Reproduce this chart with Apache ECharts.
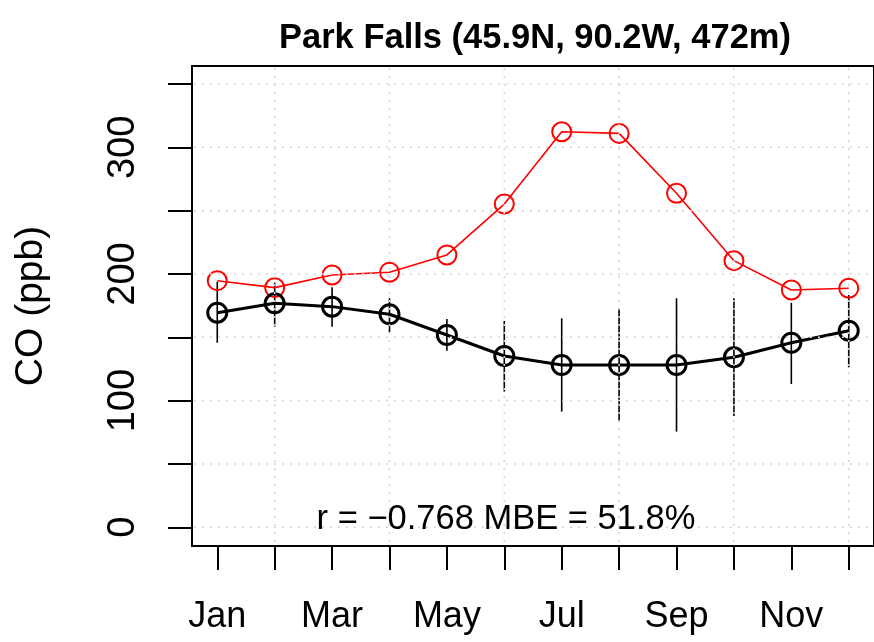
<!DOCTYPE html>
<html>
<head>
<meta charset="utf-8">
<script src="https://cdn.jsdelivr.net/npm/echarts@6/dist/echarts.min.js"></script>
<style>html,body{margin:0;padding:0;background:#fff}#c{width:874px;height:642px}</style>
</head>
<body>
<div id="c"></div>
<script>
const months = ['Jan','Feb','Mar','Apr','May','Jun','Jul','Aug','Sep','Oct','Nov','Dec'];
const monthIdx = [1,2,3,4,5,6,7,8,9,10,11,12];
const modelCO = [194.7,189.2,199.2,201.3,215.0,255.2,312.3,311.0,263.7,210.5,187.3,188.7];
const obsCO   = [169.4,176.8,174.2,168.2,151.8,135.2,128.1,128.1,128.1,134.2,145.7,155.2];
const obsLow  = [145.7,158.4,158.4,153.9,139.4,107.1,91.3,83.4,75.5,87.9,113.1,126.3];
const obsHigh = [193.9,193.1,189.5,180.8,164.4,162.9,165.0,172.9,180.8,180.8,177.3,183.4];
const xLabelMonths = [1,3,5,7,9,11];
const yTickValues = [0,50,100,150,200,250,300,350];
const yLabelValues = [0,100,200,300];
const gridXValues = [2,4,6,8,10,12];
const gridYValues = [0,50,100,150,200,250,300,350];
const titleText = 'Park Falls (45.9N, 90.2W, 472m)';
const yName = 'CO (ppb)';
const statsText = 'r = \u22120.768 MBE = 51.8%';

const chart = echarts.init(document.getElementById('c'), null, {renderer:'canvas'});
const FONT = 'Liberation Sans, Arial, Helvetica, sans-serif';

const option = {
  animation: false,
  backgroundColor: '#fff',
  title: {
    text: titleText, left: 530, top: 16, textAlign: 'center',
    textStyle: {fontFamily: FONT, fontWeight: 'bold', fontSize: 34.5, color: '#000'}
  },
  grid: {left: 192, right: -1.3, top: 66, bottom: 96, show: true, borderColor: '#000', borderWidth: 2, containLabel: false},
  xAxis: {
    type: 'value', min: 0.56, max: 12.44,
    axisLine: {show: false, onZero: false},
    splitLine: {show: false},
    axisTick: {show: true, customValues: monthIdx, length: 24, inside: false, lineStyle: {color: '#000', width: 2}},
    axisLabel: {customValues: xLabelMonths, margin: 53, fontFamily: FONT, fontSize: 36, color: '#000',
      formatter: v => months[Math.round(v) - 1]}
  },
  yAxis: {
    type: 'value', min: -14.8, max: 364.2,
    name: yName, nameLocation: 'middle', nameGap: 141, nameRotate: 90,
    nameTextStyle: {fontFamily: FONT, fontSize: 39, color: '#000'},
    axisLine: {show: false, onZero: false},
    splitLine: {show: false},
    axisTick: {show: true, customValues: yTickValues, length: 24, lineStyle: {color: '#000', width: 2}},
    axisLabel: {customValues: yLabelValues, rotate: 90, margin: 49, fontFamily: FONT, fontSize: 38, color: '#000'}
  },
  series: [
    {
      type: 'custom', name: 'errbars', z: 2, silent: true,
      data: monthIdx.map((m, i) => [m, obsLow[i], obsHigh[i]]),
      renderItem: (params, api) => {
        const p1 = api.coord([api.value(0), api.value(1)]);
        const p2 = api.coord([api.value(0), api.value(2)]);
        return {type: 'line', shape: {x1: p1[0], y1: p1[1], x2: p2[0], y2: p2[1]},
          style: {stroke: '#000', lineWidth: 1.6}};
      }
    },
    {
      type: 'line', name: 'model', z: 3, silent: true,
      data: monthIdx.map((m, i) => [m, modelCO[i]]),
      symbol: 'circle', symbolSize: 19,
      itemStyle: {color: 'rgba(0,0,0,0)', borderColor: '#ff0000', borderWidth: 2},
      lineStyle: {color: '#ff0000', width: 1.6}
    },
    {
      type: 'line', name: 'obs', z: 4, silent: true,
      data: monthIdx.map((m, i) => [m, obsCO[i]]),
      symbol: 'circle', symbolSize: 19,
      itemStyle: {color: 'rgba(0,0,0,0)', borderColor: '#000', borderWidth: 3},
      lineStyle: {color: '#000', width: 3}
    },
    {
      type: 'custom', name: 'gridV', z: 6, silent: true,
      data: gridXValues.map(v => [v, 0]),
      renderItem: (params, api) => {
        const cs = params.coordSys;
        const x = api.coord([api.value(0), 0])[0];
        return {type: 'line', shape: {x1: x, y1: cs.y + 2, x2: x, y2: cs.y + cs.height - 2},
          style: {stroke: '#d3d3d3', lineWidth: 1.5, lineDash: [2, 6]}};
      }
    },
    {
      type: 'custom', name: 'gridH', z: 6, silent: true,
      data: gridYValues.map(v => [1, v]),
      renderItem: (params, api) => {
        const cs = params.coordSys;
        const y = api.coord([1, api.value(1)])[1];
        return {type: 'line', shape: {x1: cs.x + 2, y1: y, x2: cs.x + cs.width, y2: y},
          style: {stroke: '#d3d3d3', lineWidth: 1.5, lineDash: [2, 6]}};
      }
    }
  ],
  graphic: [
    {type: 'text', x: 506, y: 537, z: 10,
     style: {text: statsText, fontFamily: FONT, fontSize: 34.5, fill: '#000', textAlign: 'center', textVerticalAlign: 'bottom'}}
  ]
};
chart.setOption(option);
</script>
</body>
</html>
